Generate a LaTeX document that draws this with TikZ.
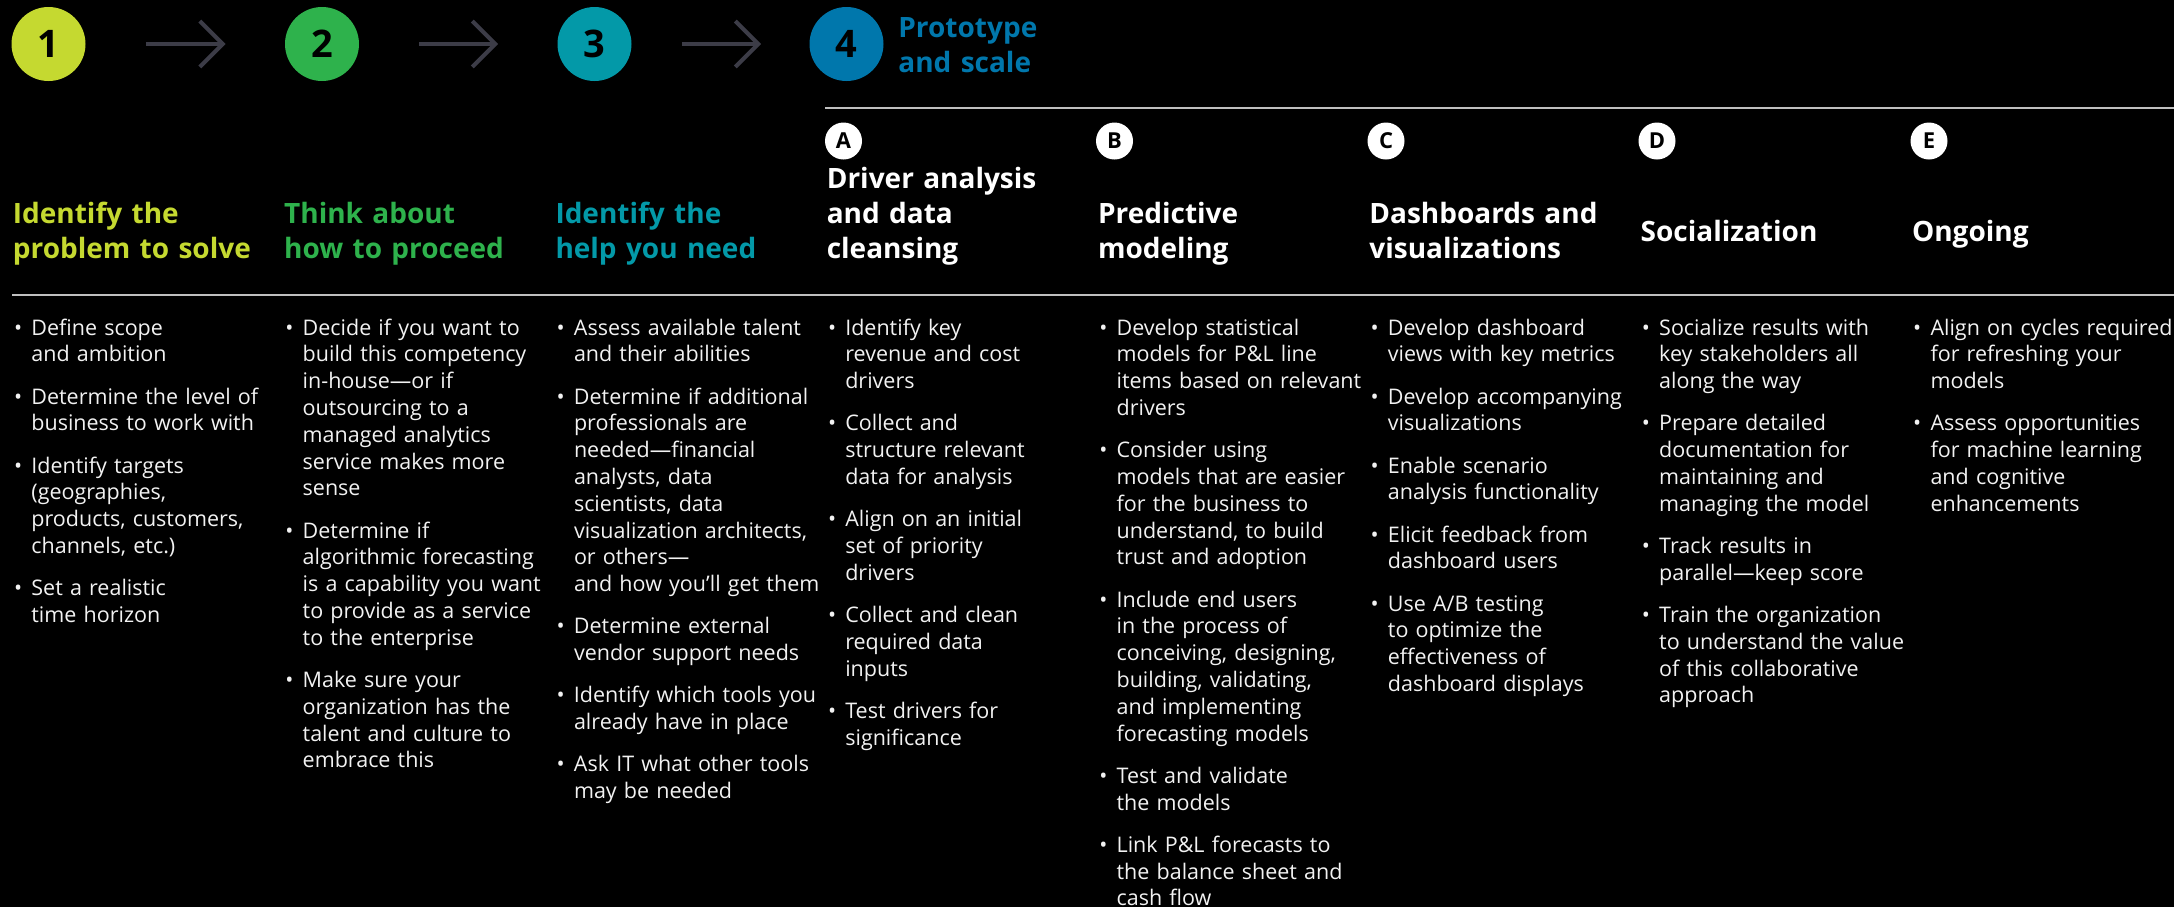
\documentclass[tikz,border=0pt]{standalone}
\usepackage{fontspec}
\setmainfont{Open Sans}
\usetikzlibrary{arrows.meta}

\definecolor{stepone}{HTML}{C5D930}
\definecolor{steptwo}{HTML}{2EB24C}
\definecolor{stepthree}{HTML}{0399A8}
\definecolor{stepfour}{HTML}{0077AC}
\definecolor{arrowgray}{HTML}{3C3C47}
\definecolor{rulegray}{HTML}{BFBFBF}
\definecolor{bodytext}{HTML}{F2F2F2}

\newcommand{\nl}{\hfil\break}
\newcommand{\bitem}[1]{\hangindent=9.25pt\hangafter=1\noindent\makebox[9.25pt][l]{\hspace{0.6pt}\textbullet}#1\par}

\tikzset{
  stepnum/.style={circle, minimum size=37pt, inner sep=0pt, fill=#1, text=black, font=\bfseries\fontsize{19}{19}\selectfont},
  letternum/.style={circle, minimum size=18.5pt, inner sep=0pt, fill=white, text=black, font=\bfseries\fontsize{11}{11}\selectfont},
  flowarrow/.style={arrowgray, line width=2pt, -{Straight Barb[length=11.5pt,width=23pt,line width=2pt]}},
  colhead/.style={anchor=base west, inner sep=0pt, text width=135pt, align=left, text=#1, font=\bfseries\fontsize{14}{17.5}\selectfont},
  bullets/.style={anchor=base west, inner sep=0pt, text width=150pt, align=left, text=bodytext, font=\fontsize{10.75}{13.4}\selectfont\setlength{\parskip}{7.7pt}},
  rule/.style={rulegray, line width=1pt}
}

\begin{document}
\begin{tikzpicture}[x=0.5pt,y=-0.5pt]
  \useasboundingbox (0,0) rectangle (2174,907);
  \fill[black] (0,0) rectangle (2174,907);

  \node[stepnum=stepone] (n1) at (48.5,44) {1};
  \node[stepnum=steptwo] (n2) at (322,44) {2};
  \node[stepnum=stepthree] (n3) at (594.5,44) {3};
  \node[stepnum=stepfour] (n4) at (846.5,44) {4};
  \node[colhead=stepfour, text width=100pt] (proto) at (898,37) {Prototype\\and scale};

  \draw[flowarrow, shorten <=30pt, shorten >=29.5pt] (n1) -- (n2);
  \draw[flowarrow, shorten <=30pt, shorten >=29.5pt] (n2) -- (n3);
  \draw[flowarrow, shorten <=25pt, shorten >=24pt] (n3) -- (n4);

  \draw[rule] (825,108) -- (2174,108);
  \draw[rule] (12,295) -- (2174,295);

  \node[letternum] (la) at (843.5,141) {A};
  \node[letternum] (lb) at (1114.5,141) {B};
  \node[letternum] (lc) at (1386,141) {C};
  \node[letternum] (ld) at (1657,141) {D};
  \node[letternum] (le) at (1929,141) {E};

  % column headings
  \node[colhead=stepone] (h1) at (12.5,223) {Identify the\\problem to solve};
  \node[colhead=steptwo] (h2) at (283.8,223) {Think about\\how to proceed};
  \node[colhead=stepthree] (h3) at (555.1,223) {Identify the\\help you need};
  \node[colhead=white] (ha) at (826.4,188) {Driver analysis\\and data\\cleansing};
  \node[colhead=white] (hb) at (1097.7,223) {Predictive\\modeling};
  \node[colhead=white] (hc) at (1369,223) {Dashboards and\\visualizations};
  \node[colhead=white] (hd) at (1640.3,241) {Socialization};
  \node[colhead=white] (he) at (1911.6,241) {Ongoing};

  % bullet lists
  \node[bullets] (b1) at (12.5,335) {
    \bitem{Define scope\nl and ambition}
    \bitem{Determine the level of\nl business to work with}
    \bitem{Identify targets\nl (geographies,\nl products, customers,\nl channels, etc.)}
    \bitem{Set a realistic\nl time horizon}};

  \node[bullets] (b2) at (283.8,335) {
    \bitem{Decide if you want to\nl build this competency\nl in-house---or if\nl outsourcing to a\nl managed analytics\nl service makes more\nl sense}
    \bitem{Determine if\nl algorithmic forecasting\nl is a capability you want\nl to provide as a service\nl to the enterprise}
    \bitem{Make sure your\nl organization has the\nl talent and culture to\nl embrace this}};

  \node[bullets] (b3) at (555.1,335) {
    \bitem{Assess available talent\nl and their abilities}
    \bitem{Determine if additional\nl professionals are\nl needed---financial\nl analysts, data\nl scientists, data\nl visualization architects,\nl or others---\nl and how you’ll get them}
    \bitem{Determine external\nl vendor support needs}
    \bitem{Identify which tools you\nl already have in place}
    \bitem{Ask IT what other tools\nl may be needed}};

  \node[bullets] (b4) at (826.4,335) {
    \bitem{Identify key\nl revenue and cost\nl drivers}
    \bitem{Collect and\nl structure relevant\nl data for analysis}
    \bitem{Align on an initial\nl set of priority\nl drivers}
    \bitem{Collect and clean\nl required data\nl inputs}
    \bitem{Test drivers for\nl significance}};

  \node[bullets] (b5) at (1097.7,335) {
    \bitem{Develop statistical\nl models for P\&L line\nl items based on relevant\nl drivers}
    \bitem{Consider using\nl models that are easier\nl for the business to\nl understand, to build\nl trust and adoption}
    \bitem{Include end users\nl in the process of\nl conceiving, designing,\nl building, validating,\nl and implementing\nl forecasting models}
    \bitem{Test and validate\nl the models}
    \bitem{Link P\&L forecasts to\nl the balance sheet and\nl cash flow}};

  \node[bullets] (b6) at (1369,335) {
    \bitem{Develop dashboard\nl views with key metrics}
    \bitem{Develop accompanying\nl visualizations}
    \bitem{Enable scenario\nl analysis functionality}
    \bitem{Elicit feedback from\nl dashboard users}
    \bitem{Use A/B testing\nl to optimize the\nl effectiveness of\nl dashboard displays}};

  \node[bullets] (b7) at (1640.3,335) {
    \bitem{Socialize results with\nl key stakeholders all\nl along the way}
    \bitem{Prepare detailed\nl documentation for\nl maintaining and\nl managing the model}
    \bitem{Track results in\nl parallel---keep score}
    \bitem{Train the organization\nl to understand the value\nl of this collaborative\nl approach}};

  \node[bullets] (b8) at (1911.6,335) {
    \bitem{Align on cycles required\nl for refreshing your\nl models}
    \bitem{Assess opportunities\nl for machine learning\nl and cognitive\nl enhancements}};
\end{tikzpicture}
\end{document}
